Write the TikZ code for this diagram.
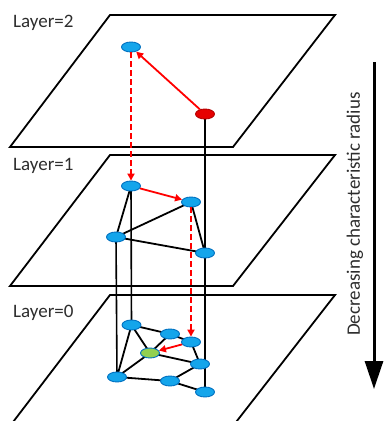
\documentclass[tikz,border=0pt]{standalone}
\usepackage{fontspec}
\setmainfont{Carlito}
\usetikzlibrary{shapes.geometric,arrows.meta}
\pgfdeclarelayer{background}
\pgfsetlayers{background,main}
\definecolor{nblue}{RGB}{20,165,235}
\definecolor{nbluedk}{RGB}{0,112,192}
\definecolor{nred}{RGB}{230,0,0}
\definecolor{nreddk}{RGB}{180,0,0}
\definecolor{ngreen}{RGB}{146,208,80}
\definecolor{txt}{RGB}{45,45,45}
\begin{document}
\begin{tikzpicture}[x=1pt,y=-1pt,
  plane/.style={draw=black,line width=1.8pt,line join=miter},
  bnode/.style={ellipse,minimum width=19pt,minimum height=10pt,inner sep=0pt,fill=nblue,draw=nbluedk,line width=0.9pt},
  rnode/.style={bnode,fill=nred,draw=nreddk},
  gnode/.style={bnode,fill=ngreen},
  edge/.style={draw=black,line width=1.8pt},
  vline/.style={draw=black,line width=1.6pt},
  redarrow/.style={draw=red,line width=1.8pt,-{Triangle[length=7pt,width=7pt]}},
  reddash/.style={draw=red,line width=1.8pt,dash pattern=on 6pt off 3pt,-{Triangle[length=7pt,width=7pt]}},
  lbl/.style={anchor=base west,inner sep=0pt,font=\fontsize{19pt}{22pt}\selectfont,text=txt}
]
\useasboundingbox (0,0) rectangle (384,421);
\begin{scope}
\clip (0,0) rectangle (384,421);
% planes
\draw[plane] (110,15) -- (335,15) -- (233,147) -- (10,147) -- cycle;
\draw[plane] (110,155) -- (335,155) -- (233,286) -- (10,286) -- cycle;
\draw[plane] (110,295) -- (335,295) -- (233,426) -- (10,426) -- cycle;
\end{scope}
% labels
\node[lbl] (L2) at (13,27) {Layer=2};
\node[lbl] (L1) at (13,170) {Layer=1};
\node[lbl] (L0) at (13,317) {Layer=0};
% layer 2 nodes
\node[bnode] (A2) at (131,47) {};
\node[rnode] (R2) at (205,114) {};
% layer 1 nodes
\node[bnode] (B1) at (131,186) {};
\node[bnode] (B2) at (191,202) {};
\node[bnode] (B3) at (116,237) {};
\node[bnode] (B4) at (205,253) {};
% layer 0 nodes
\node[bnode] (C1) at (131.5,325) {};
\node[bnode] (C2) at (170,334) {};
\node[bnode] (C3) at (191,342) {};
\node[gnode] (G)  at (150,353) {};
\node[bnode] (C4) at (200,364) {};
\node[bnode] (C5) at (117,377) {};
\node[bnode] (C6) at (170,381) {};
\node[bnode] (C7) at (205,392) {};
\begin{pgfonlayer}{background}
% vertical links
\draw[vline] (R2.center) -- (C7.center);
\draw[vline] (B1.center) -- (C1.center);
\draw[vline] (B3.center) -- (C5.center);
% layer 1 edges
\draw[edge] (B1.center) -- (B3.center);
\draw[edge] (B2.center) -- (B3.center);
\draw[edge] (B3.center) -- (B4.center);
\draw[edge] (B2.center) -- (B4.center);
% layer 0 edges
\draw[edge] (C1.center) -- (C2.center);
\draw[edge] (C2.center) -- (C3.center);
\draw[edge] (C1.center) -- (G.center);
\draw[edge] (C2.center) -- (G.center);
\draw[edge] (C1.center) -- (C5.center);
\draw[edge] (C5.center) -- (G.center);
\draw[edge] (G.center) -- (C4.center);
\draw[edge] (C3.center) -- (C4.center);
\draw[edge] (C5.center) -- (C6.center);
\draw[edge] (C6.center) -- (C4.center);
\draw[edge] (C6.center) -- (C7.center);
\end{pgfonlayer}
% search path
\draw[redarrow] (R2) -- (A2);
\draw[reddash] (A2) -- (B1);
\draw[redarrow] (B1) -- (B2);
\draw[reddash] (B2) -- (C3);
\draw[redarrow] (C3) -- (G);
% side arrow
\coordinate (AT) at (374,62);
\coordinate (AB) at (374,389);
\draw[line width=3pt,-{Triangle[length=28pt,width=18pt]}] (AT) -- (AB);
\node[rotate=90,inner sep=0pt,font=\fontsize{19pt}{22pt}\selectfont,text=txt] (DR) at (355,214) {Decreasing characteristic radius};
\end{tikzpicture}
\end{document}
